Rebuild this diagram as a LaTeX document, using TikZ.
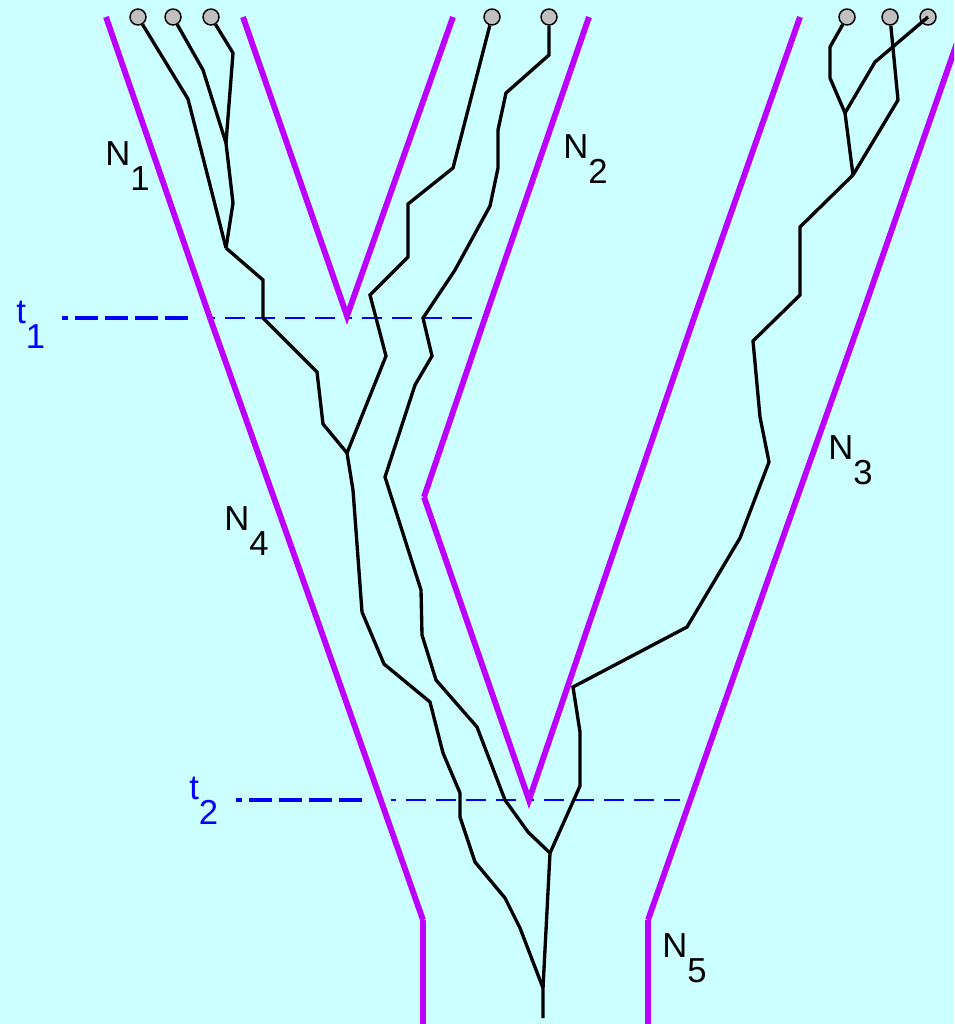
\documentclass[tikz,border=0pt]{standalone}
\usepackage{fontspec}
\setmainfont{Liberation Sans}
\definecolor{bgc}{HTML}{CCFFFF}
\definecolor{popc}{HTML}{BB00FF}
\definecolor{tcol}{HTML}{0000FF}
\definecolor{leafc}{HTML}{C0C0C0}
\newcommand\lowsub[1]{\raisebox{-18.75pt}{#1}}
\begin{document}
\begin{tikzpicture}[x=0.75pt,y=-0.75pt,
  pop/.style={draw=popc,line width=4.4pt,line cap=butt},
  gene/.style={draw=black,line width=2.5pt,line join=miter},
  leaf/.style={circle,draw=black,line width=1.1pt,fill=leafc,minimum size=12pt,inner sep=0pt},
  thickdash/.style={draw=tcol,line width=3pt,dash pattern=on 17.25pt off 5.25pt,dash phase=12.75pt},
  thindash/.style={draw=tcol,line width=1.2pt,dash pattern=on 15pt off 7.5pt,dash phase=11.25pt},
  lab/.style={anchor=base west,inner sep=0pt,font=\fontsize{26pt}{26pt}\selectfont}]
\fill[bgc] (0,0) rectangle (954,1024);
\useasboundingbox (0,0) rectangle (954,1024);
\clip (0,0) rectangle (954,1024);
% time lines
\coordinate (t1a) at (62,318); \coordinate (t1b) at (190,318);
\coordinate (t1c) at (210,318); \coordinate (t1d) at (347,318); \coordinate (t1e) at (485,318);
\coordinate (t2a) at (236,800); \coordinate (t2b) at (364,800);
\coordinate (t2c) at (391,800); \coordinate (t2d) at (529,800); \coordinate (t2e) at (680,800);
\draw[thickdash] (t1a) -- (t1b);
\draw[thindash] (t1c) -- (t1d);
\draw[thindash] (t1d) -- (t1e);
\draw[thickdash] (t2a) -- (t2b);
\draw[thindash] (t2c) -- (t2d);
\draw[thindash] (t2d) -- (t2e);
% population boundaries
\draw[pop] (106,17) -- (210,318);
\draw[pop] (210,318) -- (317,619);
\draw[pop] (317,619) -- (423,920);
\draw[pop] (423,920) -- (423,1024);
\draw[pop,line join=miter] (243,17) -- (347,316) -- (453,17);
\draw[pop] (589,17) -- (485,318);
\draw[pop] (485,318) -- (424,497);
\draw[pop,line join=miter] (424,497) -- (529,800) -- (591,618);
\draw[pop] (591,618) -- (694,318);
\draw[pop] (694,318) -- (800,17);
\draw[pop] (966,17) -- (861,318);
\draw[pop] (861,318) -- (754,619);
\draw[pop] (754,619) -- (648,920);
\draw[pop] (648,920) -- (648,1024);
% leaves
\node[leaf] (l1) at (138,17) {};
\node[leaf] (l2) at (173,17) {};
\node[leaf] (l3) at (211,17) {};
\node[leaf] (l4) at (492,17) {};
\node[leaf] (l5) at (549,17) {};
\node[leaf] (l6) at (847,17) {};
\node[leaf] (l7) at (890,17) {};
\node[leaf] (l8) at (928,17) {};
% junctions
\coordinate (j1) at (226,143);
\coordinate (j2) at (226,248);
\coordinate (j3) at (347,453);
\coordinate (j4) at (550,853);
\coordinate (j5) at (543,988);
\coordinate (root) at (543,1018);
\coordinate (r1) at (845,113);
\coordinate (r2) at (853,175);
% genealogy
\draw[gene] (l2) -- (203,70) -- (j1);
\draw[gene] (l3) -- (233,53) -- (j1);
\draw[gene] (j1) -- (233,203) -- (j2);
\draw[gene] (l1) -- (188,99) -- (210,185) -- (j2);
\draw[gene] (j2) -- (263,280) -- (263,318) -- (317,372) -- (323,424) -- (j3);
\draw[gene] (l4) -- (453,168) -- (408,204) -- (408,257) -- (370,295) -- (386,356) -- (j3);
\draw[gene] (j3) -- (353,490) -- (362,612) -- (384,664) -- (430,702) -- (443,753) -- (460,793) -- (460,817) -- (475,862) -- (505,898) -- (520,928) -- (j5);
\draw[gene] (l5) -- (549,55) -- (506,93) -- (498,130) -- (498,168) -- (490,206) -- (455,270) -- (423,318) -- (432,356) -- (415,385) -- (385,477) -- (421,590) -- (422,635) -- (436,680) -- (477,727) -- (505,800) -- (528,832) -- (j4);
\draw[gene] (l6) -- (830,47) -- (830,78) -- (r1);
\draw[gene] (l7) -- (898,100) -- (r2);
\draw[gene] (l8.center) -- (875,62) -- (r1);
\draw[gene] (r1) -- (r2);
\draw[gene] (r2) -- (800,227) -- (800,295) -- (753,341) -- (760,417) -- (769,462) -- (740,538) -- (687,627) -- (573,687) -- (580,732) -- (580,786) -- (j4);
\draw[gene] (j4) -- (j5) -- (root);
% labels
\node[lab] (n1) at (105,165) {N\lowsub{1}};
\node[lab] (n2) at (563,158) {N\lowsub{2}};
\node[lab] (n3) at (828,459) {N\lowsub{3}};
\node[lab] (n4) at (224,530) {N\lowsub{4}};
\node[lab] (n5) at (662,957) {N\lowsub{5}};
\node[lab,text=tcol] (lt1) at (16,323) {t\lowsub{1}};
\node[lab,text=tcol] (lt2) at (189,799) {t\lowsub{2}};
\end{tikzpicture}
\end{document}
